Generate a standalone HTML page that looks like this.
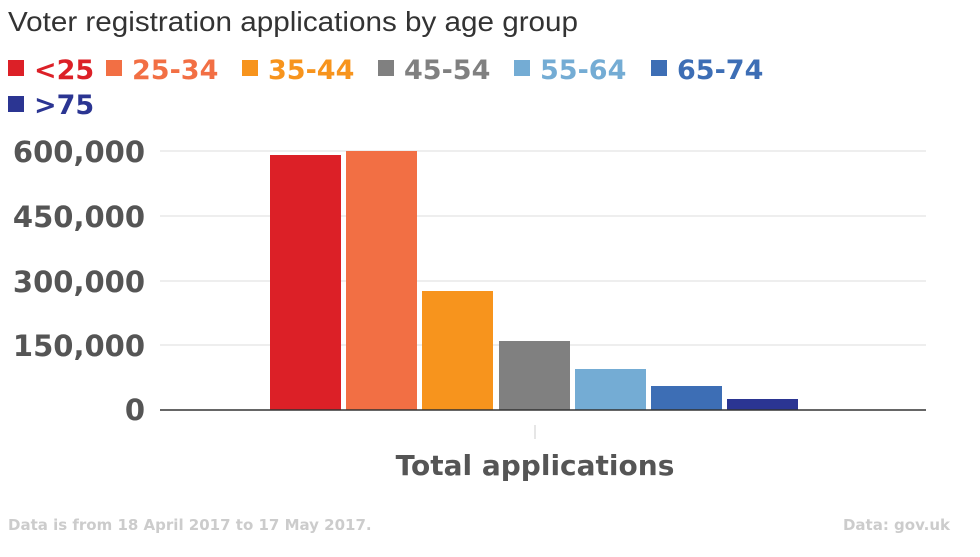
<!DOCTYPE html>
<html><head><meta charset="utf-8"><style>
body{margin:0;background:#fff;width:980px;height:552px;overflow:hidden}
svg text{font-family:"DejaVu Sans","Liberation Sans",sans-serif}
</style></head><body>
<svg width="980" height="552" xmlns="http://www.w3.org/2000/svg">
<text x="8" y="31" font-size="28" fill="#333" textLength="570" lengthAdjust="spacingAndGlyphs" style="font-family:'Liberation Sans',sans-serif">Voter registration applications by age group</text>
<g font-size="27" font-weight="bold">
<rect x="8" y="60" width="16" height="16" fill="#dc2027"/><text x="34" y="79" fill="#dc2027">&lt;25</text>
<rect x="106" y="60" width="16" height="16" fill="#f26f44"/><text x="132" y="79" fill="#f26f44">25-34</text>
<rect x="242" y="60" width="16" height="16" fill="#f7941d"/><text x="268" y="79" fill="#f7941d">35-44</text>
<rect x="378" y="60" width="16" height="16" fill="#808080"/><text x="404" y="79" fill="#808080">45-54</text>
<rect x="514" y="60" width="16" height="16" fill="#74acd4"/><text x="540" y="79" fill="#74acd4">55-64</text>
<rect x="651" y="60" width="16" height="16" fill="#3d6eb5"/><text x="677" y="79" fill="#3d6eb5">65-74</text>
<rect x="8" y="96" width="16" height="16" fill="#2b3592"/><text x="34" y="114" fill="#2b3592">&gt;75</text>
</g>
<g stroke="#ddd" stroke-width="1">
<line x1="160" y1="151" x2="926" y2="151"/><line x1="160" y1="216" x2="926" y2="216"/>
<line x1="160" y1="281" x2="926" y2="281"/><line x1="160" y1="345" x2="926" y2="345"/>
</g>
<g font-size="29" font-weight="bold" fill="#555" text-anchor="end">
<text x="145" y="162">600,000</text><text x="145" y="227">450,000</text>
<text x="145" y="292">300,000</text><text x="145" y="356">150,000</text><text x="145" y="420">0</text>
</g>
<rect x="270" y="155" width="71" height="255" fill="#dc2027"/>
<rect x="346" y="151" width="71" height="259" fill="#f26f44"/>
<rect x="422" y="291" width="71" height="119" fill="#f7941d"/>
<rect x="499" y="341" width="71" height="69" fill="#808080"/>
<rect x="575" y="369" width="71" height="41" fill="#74acd4"/>
<rect x="651" y="386" width="71" height="24" fill="#3d6eb5"/>
<rect x="727" y="399" width="71" height="11" fill="#2b3592"/>
<line x1="160" y1="410" x2="926" y2="410" stroke="#333" stroke-width="1.5"/>
<line x1="535" y1="425" x2="535" y2="439" stroke="#ccc"/>
<text x="535" y="475" font-size="28" font-weight="bold" fill="#555" text-anchor="middle">Total applications</text>
<text x="8" y="530" font-size="15" font-weight="bold" fill="#ccc">Data is from 18 April 2017 to 17 May 2017.</text>
<text x="950" y="530" font-size="15" font-weight="bold" fill="#ccc" text-anchor="end">Data: gov.uk</text>
</svg>
</body></html>
